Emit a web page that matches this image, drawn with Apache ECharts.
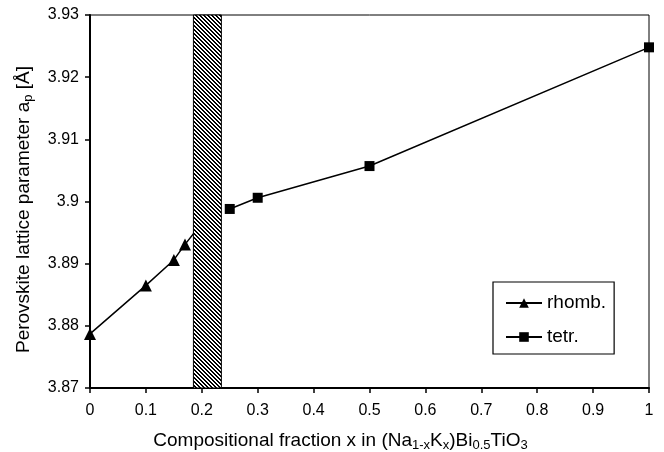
<!DOCTYPE html>
<html>
<head>
<meta charset="utf-8">
<script src="https://cdn.jsdelivr.net/npm/echarts@6/dist/echarts.min.js"></script>
<style>
  html, body { margin: 0; padding: 0; background: #fff; }
  #chart { width: 664px; height: 452px; }
</style>
</head>
<body>
<div id="chart"></div>
<script>
// * Rhombohedral phase (last point sits behind the hatched band)
const rhombX = [0, 0.1, 0.15, 0.17, 0.2];
const rhombA = [3.8787, 3.8865, 3.8906, 3.8931, 3.8965];
// * Tetragonal phase
const tetrX = [0.25, 0.3, 0.5, 1];
const tetrA = [3.8988, 3.9006, 3.9057, 3.9248];
// * Morphotropic phase boundary band
const bandRange = [0.185, 0.235];
// * Axis ticks
const xTicks = [0, 0.1, 0.2, 0.3, 0.4, 0.5, 0.6, 0.7, 0.8, 0.9, 1];
const yTicks = [3.87, 3.88, 3.89, 3.9, 3.91, 3.92, 3.93];

const font = "Liberation Sans, Arial, sans-serif";

// ? Pixel diagonal hatch pattern for the band
function makeHatch() {
  const s = 4;
  const c = document.createElement("canvas");
  c.width = s;
  c.height = s;
  const ctx = c.getContext("2d");
  ctx.fillStyle = "#fff";
  ctx.fillRect(0, 0, s, s);
  ctx.fillStyle = "#000";
  for (let y = 0; y < s; y++) {
    ctx.fillRect(y % s, y, 1, 1);
    ctx.fillRect((y + 1) % s, y, 1, 1);
  }
  return c;
}

const zip = (xs, ys) => xs.map((x, i) => [x, ys[i]]);
const hatch = makeHatch();

const myChart = echarts.init(document.getElementById("chart"));
const option = {
  animation: false,
  backgroundColor: "#fff",
  grid: {
    left: 90,
    right: 15,
    top: 15,
    bottom: 64,
    show: true,
    containLabel: false,
    outerBoundsMode: "none",
    borderColor: "#000",
    borderWidth: 1,
  },
  legend: {
    left: 493,
    top: 282,
    orient: "vertical",
    borderColor: "#000",
    borderWidth: 1.2,
    padding: [11, 8, 7, 12],
    itemGap: 14,
    itemWidth: 36,
    itemHeight: 12,
    textStyle: { fontFamily: font, fontSize: 19, lineHeight: 20, color: "#000" },
    data: ["rhomb.", "tetr."],
  },
  xAxis: {
    type: "value",
    min: xTicks[0],
    max: xTicks[xTicks.length - 1],
    interval: 0.1,
    axisLine: { lineStyle: { color: "#000", width: 2 } },
    axisTick: { length: 5, lineStyle: { color: "#000", width: 1.5 } },
    splitLine: { show: false },
    axisLabel: {
      color: "#000",
      fontFamily: font,
      fontSize: 16,
      margin: 15,
      formatter: (v) => String(+v.toFixed(1)),
    },
    name: "{t|Compositional fraction x in (Na}{s|1-x}{t|K}{s|x}{t|)Bi}{s|0.5}{t|TiO}{s|3}",
    nameLocation: "middle",
    nameGap: 42,
    nameTextStyle: {
      padding: [0, 58, 0, 0],
      rich: {
        t: { fontFamily: font, fontSize: 19, color: "#000" },
        s: { fontFamily: font, fontSize: 13, color: "#000", verticalAlign: "bottom", padding: [9, 0, 0, 0] },
      },
    },
  },
  yAxis: {
    type: "value",
    min: yTicks[0],
    max: yTicks[yTicks.length - 1],
    interval: 0.01,
    axisLine: { show: true, lineStyle: { color: "#000", width: 2 } },
    axisTick: { show: true, length: 5, lineStyle: { color: "#000", width: 1.5 } },
    splitLine: { show: false },
    axisLabel: {
      color: "#000",
      fontFamily: font,
      fontSize: 16,
      margin: 11,
      formatter: (v) => String(+v.toFixed(2)),
    },
    name: "{t|Perovskite lattice parameter a}{s|p}{t| [Å]}",
    nameLocation: "middle",
    nameGap: 55,
    nameRotate: 90,
    nameTextStyle: {
      padding: [0, 16, 0, 0],
      rich: {
        t: { fontFamily: font, fontSize: 19, color: "#000" },
        s: { fontFamily: font, fontSize: 13, color: "#000", verticalAlign: "bottom", padding: [9, 0, 0, 0] },
      },
    },
  },
  series: [
    {
      name: "rhomb.",
      type: "line",
      data: zip(rhombX, rhombA),
      symbol: "triangle",
      symbolSize: 12,
      showAllSymbol: true,
      lineStyle: { color: "#000", width: 1.5 },
      itemStyle: { color: "#000" },
      z: 2,
    },
    {
      name: "tetr.",
      type: "line",
      data: zip(tetrX, tetrA),
      symbol: "rect",
      symbolSize: 10,
      lineStyle: { color: "#000", width: 1.5 },
      itemStyle: { color: "#000" },
      z: 2,
    },
    {
      // * Hatched band drawn on top of the rhomb line
      name: "band",
      type: "custom",
      z: 10,
      silent: true,
      data: [[bandRange[0], bandRange[1]]],
      renderItem: (params, api) => {
        const p0 = api.coord([api.value(0), yTicks[yTicks.length - 1]]);
        const p1 = api.coord([api.value(1), yTicks[0]]);
        return {
          type: "rect",
          shape: { x: p0[0], y: p0[1], width: p1[0] - p0[0], height: p1[1] - p0[1] },
          style: {
            fill: { image: hatch, repeat: "repeat" },
            stroke: "#000",
            lineWidth: 1,
          },
        };
      },
    },
  ],
};

myChart.setOption(option);
</script>
</body>
</html>
